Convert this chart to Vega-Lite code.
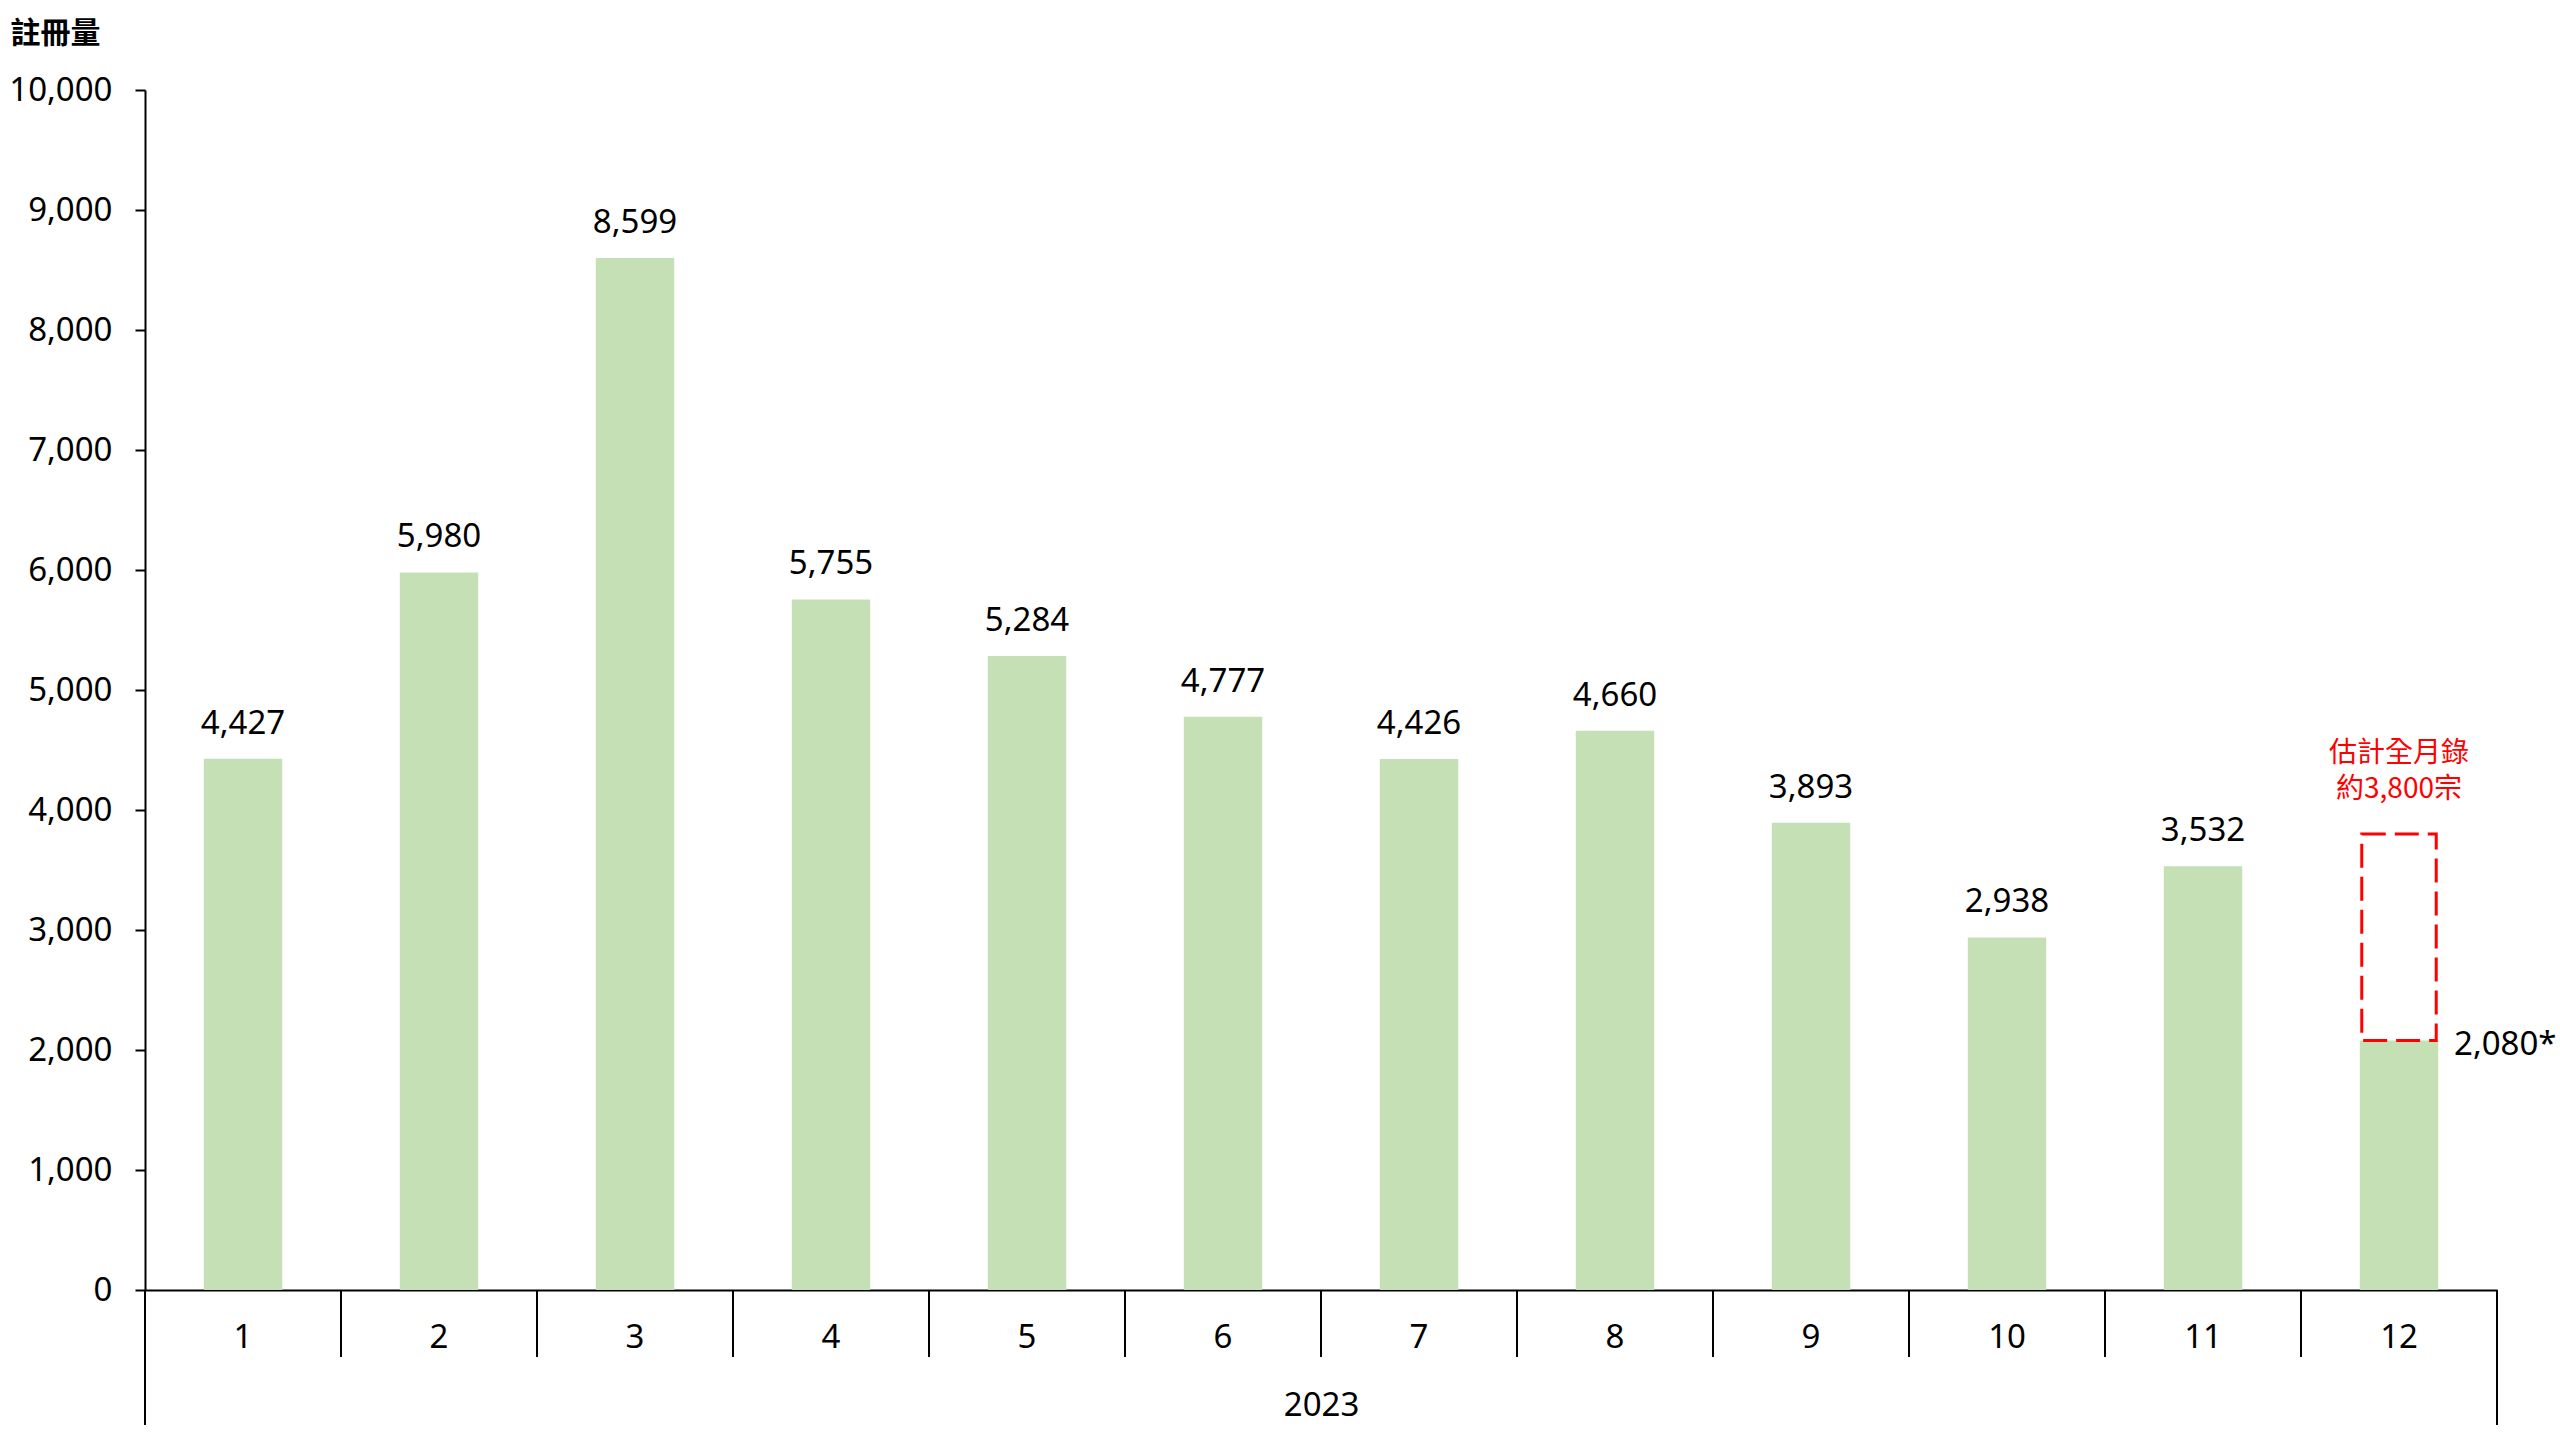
{
  "$schema": "https://vega.github.io/schema/vega-lite/v6.json",
  "width": 2352,
  "height": 1200,
  "autosize": "none",
  "padding": {"left": 145, "top": 90, "right": 63, "bottom": 150},
  "background": "white",
  "config": {"view": {"stroke": null}, "font": "Noto Sans"},
  "datasets": {
    "months": [
      {"month": "1", "count": 4427, "label": "4,427"},
      {"month": "2", "count": 5980, "label": "5,980"},
      {"month": "3", "count": 8599, "label": "8,599"},
      {"month": "4", "count": 5755, "label": "5,755"},
      {"month": "5", "count": 5284, "label": "5,284"},
      {"month": "6", "count": 4777, "label": "4,777"},
      {"month": "7", "count": 4426, "label": "4,426"},
      {"month": "8", "count": 4660, "label": "4,660"},
      {"month": "9", "count": 3893, "label": "3,893"},
      {"month": "10", "count": 2938, "label": "2,938"},
      {"month": "11", "count": 3532, "label": "3,532"},
      {"month": "12", "count": 2080, "label": "2,080*"}
    ],
    "est": [
      {"month": "12", "low": 2080, "high": 3800, "note": ["估計全月錄", "約3,800宗"]}
    ],
    "edges": [
      {"edge": 0.5, "bottom": -1125, "top": 0},
      {"edge": 1.5, "bottom": -558, "top": 0},
      {"edge": 2.5, "bottom": -558, "top": 0},
      {"edge": 3.5, "bottom": -558, "top": 0},
      {"edge": 4.5, "bottom": -558, "top": 0},
      {"edge": 5.5, "bottom": -558, "top": 0},
      {"edge": 6.5, "bottom": -558, "top": 0},
      {"edge": 7.5, "bottom": -558, "top": 0},
      {"edge": 8.5, "bottom": -558, "top": 0},
      {"edge": 9.5, "bottom": -558, "top": 0},
      {"edge": 10.5, "bottom": -558, "top": 0},
      {"edge": 11.5, "bottom": -558, "top": 0},
      {"edge": 12.5, "bottom": -1125, "top": 0}
    ]
  },
  "resolve": {"scale": {"x": "independent"}},
  "layer": [
    {
      "layer": [
        {
          "data": {"name": "months"},
          "mark": {"type": "bar", "color": "#C5E0B4"},
          "encoding": {
            "x": {
              "field": "month", "type": "ordinal",
              "scale": {"domain": ["1","2","3","4","5","6","7","8","9","10","11","12"], "paddingInner": 0.6, "paddingOuter": 0.3},
              "axis": {
                "title": "2023", "ticks": false,
                "domainColor": "black", "domainWidth": 2, "labelAngle": 0, "labelFontSize": 33, "labelColor": "black",
                "labelBaseline": "alphabetic", "labelPadding": 57, "titleFontSize": 33, "titleFontWeight": "normal",
                "titleColor": "black", "titleBaseline": "alphabetic", "titleY": 125, "grid": false
              }
            },
            "y": {
              "field": "count", "type": "quantitative",
              "scale": {"domain": [0, 10000], "nice": false},
              "axis": {
                "values": [0, 1000, 2000, 3000, 4000, 5000, 6000, 7000, 8000, 9000, 10000],
                "format": ",.0f", "title": "註冊量", "titleAngle": 0, "titleAlign": "left", "titleBaseline": "middle",
                "titleX": -135, "titleY": -57, "titleFont": "Noto Sans CJK TC", "titleFontSize": 30,
                "titleFontWeight": "bold", "titleColor": "black", "labelFontSize": 33, "labelColor": "black",
                "labelPadding": 23, "tickSize": 10, "tickColor": "black", "tickWidth": 2,
                "domainColor": "black", "domainWidth": 2, "grid": false
              }
            }
          }
        },
        {
          "data": {"name": "months"},
          "transform": [{"filter": "datum.month != '12'"}],
          "mark": {"type": "text", "fontSize": 33, "color": "black", "align": "center", "baseline": "alphabetic", "dy": -25},
          "encoding": {
            "x": {"field": "month", "type": "ordinal"},
            "y": {"field": "count", "type": "quantitative"},
            "text": {"field": "label"}
          }
        },
        {
          "data": {"name": "months"},
          "transform": [{"filter": "datum.month == '12'"}],
          "mark": {"type": "text", "fontSize": 33, "color": "black", "align": "left", "baseline": "alphabetic", "dx": 55, "dy": 15},
          "encoding": {
            "x": {"field": "month", "type": "ordinal"},
            "y": {"field": "count", "type": "quantitative"},
            "text": {"field": "label"}
          }
        },
        {
          "data": {"name": "est"},
          "mark": {"type": "bar", "filled": false, "color": "#FF0000", "strokeWidth": 3, "strokeDash": [24, 9], "width": {"band": 0.95}},
          "encoding": {
            "x": {"field": "month", "type": "ordinal"},
            "y": {"field": "low", "type": "quantitative"},
            "y2": {"field": "high"}
          }
        },
        {
          "data": {"name": "est"},
          "mark": {"type": "text", "font": "Noto Sans CJK TC", "fontSize": 28, "lineHeight": 36, "color": "#FF0000", "align": "center", "baseline": "alphabetic", "dy": -72},
          "encoding": {
            "x": {"field": "month", "type": "ordinal"},
            "y": {"field": "high", "type": "quantitative"},
            "text": {"field": "note"}
          }
        }
      ]
    },
    {
      "data": {"name": "edges"},
      "mark": {"type": "rule", "color": "black", "strokeWidth": 2},
      "encoding": {
        "x": {"field": "edge", "type": "quantitative", "scale": {"domain": [0.5, 12.5], "nice": false, "zero": false}, "axis": null},
        "y": {"field": "bottom", "type": "quantitative"},
        "y2": {"field": "top"}
      }
    }
  ]
}
